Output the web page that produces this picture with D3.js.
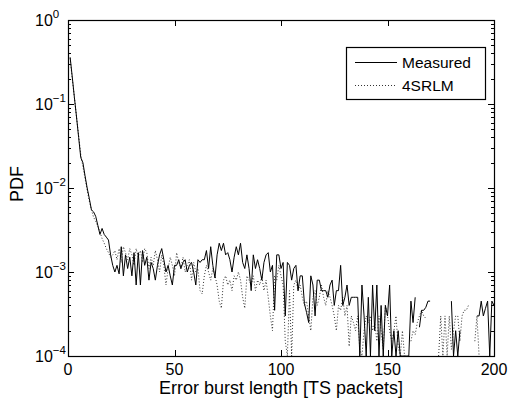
<!DOCTYPE html>
<html>
  <head>
    <title>Error burst length PDF</title>
    <script src="https://d3js.org/d3.v7.min.js"></script>
    <style>
      body { margin: 0; background: #fff; }
      text { font-family: "Liberation Sans", Arial, Helvetica, sans-serif; fill: #000; }
    </style>
  </head>
  <body>
    <div id="chart"></div>
    <script>
      // burst lengths 1..200
      var burstLength = d3.range(1, 201);

      // measured PDF (0 = no burst of that length, left as a gap)
      var measured = [
        .36, .21, .12, .07, .04, .023, .02, .014, .01, .0075,
        .0055, .0052, .0046, .0036, .0028, .0033, .0028, .0026, .0024, .0016,
        .0012, .001, .0012, .00095, .002, .0009, .0016, .0011, .0015, .0009,
        .0017, .0007, .0017, .0007, .0018, .0012, .0015, .0008, .0013, .0011,
        .0008, .0012, .0016, .0019, .0014, .001, .0012, .0009, .0007, .0012,
        .0012, .0014, .0011, .0013, .0014, .001, .0012, .0013, .001, .0007,
        .0014, .0013, .0014, .0014, .0018, .0011, .002, .0012, .00085, .0016,
        .0022, .0018, .0022, .0016, .0017, .0014, .001, .0015, .002, .0016,
        .0022, .0013, .0011, .0016, .0011, .0006, .0016, .0011, .0014, .0011,
        .0008, .0013, .0016, .0017, .001, .0012, .00035, .0016, .0016, .0011,
        .0013, .0003, .0013, .0012, .0008, .0011, .0012, .0006, .0009, .0009,
        .00042, .00033, .00025, .0009, .0007, .0003, .0008, .0008, .0006, .0006,
        .0006, .0005, .0007, .0008, .0004, .0006, .0006, .0012, .0004, .0005,
        .0007, .0004, .0005, .0005, .0005, .0005, .0001, .0007, .0003, .0001,
        .0005, .0001, .0007, .0002, .0007, .0001, .0004, .0001, .0004, .0003,
        .0007, .0001, .0002, .0001, .0002, .0001, .0001, .0001, .0001, .0001,
        .00045, .00025, .0005, 0, .00022, .00035, .00035, .00038, .00045, .00045,
        0, 0, 0, 0, 0, 0, 0, 0, 0, .00045,
        .0001, .0002, .0001, .0002, 0, 0, 0, 0, 0, 0,
        0, .0003, .0003, .00045, .0003, .00037, .00045, .0001, .00045, .0004
      ];

      // 4SRLM model PDF
      var model4srlm = [
        .35, .2, .12, .07, .042, .025, .018, .013, .0095, .007,
        .0055, .0045, .004, .0035, .003, .0025, .0022, .0019, .0017, .0015,
        .0016, .0018, .0014, .0019, .0013, .002, .0017, .0014, .0019, .0016,
        .0012, .0019, .0015, .0018, .0013, .0019, .0017, .0011, .0015, .0012,
        .0018, .0014, .001, .0016, .0012, .0007, .0011, .0015, .0012, .0009,
        .0017, .0013, .0011, .0015, .001, .0012, .0014, .0008, .0013, .001,
        .0011, .0006, .00055, .0009, .0012, .001, .0008, .0011, .0009, .0007,
        .00045, .00037, .0008, .0009, .0007, .0008, .0006, .0009, .0008, .001,
        .0008, .0005, .00037, .0009, .0008, .0007, .0009, .0006, .0008, .0007,
        .0009, .0006, .0008, .0005, .0003, .0002, .0009, .0008, .0012, .0009,
        .0007, .00015, .0001, .0006, .0001, .0007, .0008, .0006, .0007, .0005,
        .0004, .00045, .0003, .0002, .0005, .0006, .0004, .0005, .0007, .0005,
        .0004, .0006, .0005, .0004, .0003, .0002, .0004, .00035, .0005, .0003,
        .0004, .00013, .0003, .00025, .0002, .0003, .00012, .0001, .0002, .0003,
        .00025, .0003, .0002, .00025, .00015, .0003, .0002, .00012, .0004, .0003,
        .0002, .00015, .0002, .0003, .00013, .0001, .0002, .0001, 0, 0,
        .00015, .0002, .00018, .00025, .0003, .00035, .0003, .00028, 0, 0,
        0, 0, 0, .0001, .0003, .0001, .0003, .0001, .0003, .00012,
        .0002, .0003, .0003, .00015, .0003, .00035, .00035, .0004, 0, 0,
        .00015, .0003, .0001, 0, 0, 0, 0, 0, 0, 0
      ];

      var xTicks = [0, 50, 100, 150, 200];
      var yExponents = [0, -1, -2, -3, -4];
      var legendLabels = ["Measured", "4SRLM"];

      var width = 508, height = 398;
      var margin = { top: 20, right: 14, bottom: 42, left: 68 };

      var svg = d3.select("#chart")
        .append("svg")
        .attr("width", width)
        .attr("height", height);

      var x = d3.scaleLinear()
        .domain([0, 200])
        .range([margin.left, width - margin.right]);

      var y = d3.scaleLog()
        .domain([1e-4, 1])
        .range([height - margin.bottom, margin.top]);

      var x0 = x.range()[0], x1 = x.range()[1];
      var yb = y.range()[0], yt = y.range()[1];

      // minor ticks of the log axis
      var minor = [];
      yExponents.slice(1).forEach(function(e) {
        for (var k = 2; k <= 9; k++) minor.push(k * Math.pow(10, e));
      });

      var ticks = svg.append("g").attr("stroke", "#000").attr("stroke-width", 1);

      ticks.selectAll("line.ymin")
        .data(minor.concat(minor))
        .enter().append("line")
        .attr("x1", function(d, i) { return i < minor.length ? x0 : x1; })
        .attr("x2", function(d, i) { return i < minor.length ? x0 + 3 : x1 - 3; })
        .attr("y1", function(d) { return Math.round(y(d)) + 0.5; })
        .attr("y2", function(d) { return Math.round(y(d)) + 0.5; });

      var majors = yExponents.map(function(e) { return Math.pow(10, e); });
      ticks.selectAll("line.ymaj")
        .data(majors.concat(majors))
        .enter().append("line")
        .attr("x1", function(d, i) { return i < majors.length ? x0 : x1; })
        .attr("x2", function(d, i) { return i < majors.length ? x0 + 6 : x1 - 6; })
        .attr("y1", function(d) { return Math.round(y(d)) + 0.5; })
        .attr("y2", function(d) { return Math.round(y(d)) + 0.5; });

      ticks.selectAll("line.xmaj")
        .data(xTicks.concat(xTicks))
        .enter().append("line")
        .attr("x1", function(d) { return Math.round(x(d)) + 0.5; })
        .attr("x2", function(d) { return Math.round(x(d)) + 0.5; })
        .attr("y1", function(d, i) { return i < xTicks.length ? yb : yt; })
        .attr("y2", function(d, i) { return i < xTicks.length ? yb - 6 : yt + 6; });

      // data lines
      var pts = function(arr) {
        return arr.map(function(v, i) { return [burstLength[i], v]; });
      };
      var line = d3.line()
        .defined(function(d) { return d[1] > 0; })
        .x(function(d) { return x(d[0]); })
        .y(function(d) { return y(d[1]); });

      svg.append("path")
        .datum(pts(model4srlm))
        .attr("fill", "none")
        .attr("stroke", "#333")
        .attr("stroke-width", 1)
        .attr("stroke-dasharray", "1,2")
        .attr("d", line);

      svg.append("path")
        .datum(pts(measured))
        .attr("fill", "none")
        .attr("stroke", "#000")
        .attr("stroke-width", 1)
        .attr("d", line);

      // frame
      svg.append("rect")
        .attr("x", x0 + 0.5)
        .attr("y", yt + 0.5)
        .attr("width", x1 - x0)
        .attr("height", yb - yt)
        .attr("fill", "none")
        .attr("stroke", "#000")
        .attr("stroke-width", 1.2);

      // tick labels
      svg.selectAll("text.xt")
        .data(xTicks)
        .enter().append("text")
        .attr("x", function(d) { return x(d); })
        .attr("y", yb + 19)
        .attr("text-anchor", "middle")
        .attr("font-size", "16px")
        .text(function(d) { return d; });

      var yl = svg.selectAll("text.yt")
        .data(yExponents)
        .enter().append("text")
        .attr("x", 35)
        .attr("y", function(d) { return y(Math.pow(10, d)) + 6; })
        .attr("font-size", "16px");
      yl.append("tspan").text("10");
      yl.append("tspan")
        .attr("dy", -8)
        .attr("font-size", "11.5px")
        .text(function(d) { return d === 0 ? "0" : "\u2212" + (-d); });

      // axis titles
      svg.append("text")
        .attr("x", (x0 + x1) / 2)
        .attr("y", 394)
        .attr("text-anchor", "middle")
        .attr("font-size", "18px")
        .text("Error burst length [TS packets]");

      svg.append("text")
        .attr("transform", "translate(23," + (y(1e-2) - 4) + ") rotate(-90)")
        .attr("text-anchor", "middle")
        .attr("font-size", "18px")
        .text("PDF");

      // legend
      var lg = svg.append("g");
      lg.append("rect")
        .attr("x", 346.5).attr("y", 47.5)
        .attr("width", 139).attr("height", 52)
        .attr("fill", "#fff").attr("stroke", "#000").attr("stroke-width", 1.2);
      legendLabels.forEach(function(name, i) {
        var ly = 62 + i * 23;
        lg.append("line")
          .attr("x1", 355).attr("x2", 397)
          .attr("y1", ly + 0.5).attr("y2", ly + 0.5)
          .attr("stroke", i === 0 ? "#000" : "#333")
          .attr("stroke-dasharray", i === 0 ? null : "1,2");
        lg.append("text")
          .attr("x", 402).attr("y", ly + 6)
          .attr("font-size", "15.5px")
          .text(name);
      });
    </script>
  </body>
</html>
